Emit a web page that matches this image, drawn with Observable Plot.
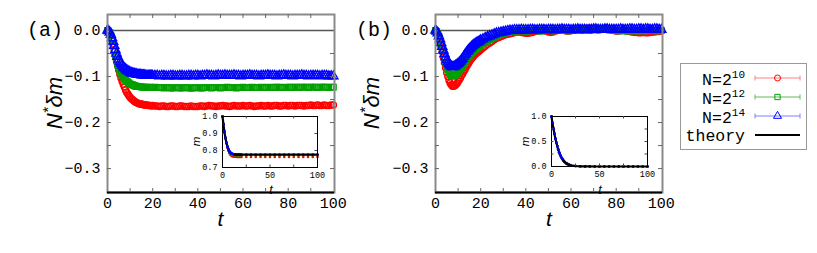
<!DOCTYPE html>
<html><head><meta charset="utf-8">
<script src="https://cdn.jsdelivr.net/npm/d3@7"></script>
<script src="https://cdn.jsdelivr.net/npm/@observablehq/plot@0.6"></script>
<style>
html,body{margin:0;padding:0;background:#fff;}
#root{position:relative;width:817px;height:253px;overflow:hidden;background:#fff;}
#root svg{position:absolute;max-width:none;background:transparent;overflow:visible;}
</style></head><body><div id="root"></div>
<script>
// ---------- data ----------
const tGrid = [0,0.5,1,1.5,2,2.5,3,3.5,4,4.5,5,5.5,6,6.5,7,7.5,8,8.5,9,9.5,10,10.5,11,11.5,12,12.5,13,13.5,14,14.5,15,15.5,16,16.5,17,17.5,18,18.5,19,19.5,20,
21,22,23,24,25,26,27,28,29,30,31,32,33,34,35,36,37,38,39,40,41,42,43,44,45,46,47,48,49,50,
51,52,53,54,55,56,57,58,59,60,61,62,63,64,65,66,67,68,69,70,71,72,73,74,75,76,77,78,79,80,
81,82,83,84,85,86,87,88,89,90,91,92,93,94,95,96,97,98,99,100];

// panel (a): N* delta m
const redA = [0,-0.001,-0.005,-0.011,-0.020,-0.030,-0.042,-0.054,-0.065,-0.076,
-0.086,-0.095,-0.103,-0.110,-0.117,-0.123,-0.129,-0.134,-0.138,-0.142,
-0.145,-0.148,-0.150,-0.152,-0.154,-0.156,-0.157,-0.158,-0.159,-0.160,
-0.160,-0.161,-0.161,-0.162,-0.162,-0.162,-0.163,-0.163,-0.163,-0.164,-0.163,
-0.164,-0.164,-0.165,-0.164,-0.164,-0.165,-0.165,-0.164,-0.164,-0.165,
-0.165,-0.164,-0.164,-0.165,-0.165,-0.165,-0.164,-0.165,-0.165,-0.165,
-0.164,-0.164,-0.165,-0.164,-0.163,-0.164,-0.164,-0.165,-0.164,-0.164,
-0.163,-0.164,-0.164,-0.165,-0.164,-0.163,-0.164,-0.164,-0.164,-0.163,
-0.164,-0.164,-0.163,-0.164,-0.165,-0.164,-0.164,-0.163,-0.164,-0.164,
-0.163,-0.164,-0.164,-0.163,-0.163,-0.164,-0.164,-0.163,-0.163,-0.164,
-0.163,-0.163,-0.164,-0.163,-0.163,-0.163,-0.164,-0.163,-0.163,-0.162,
-0.163,-0.163,-0.162,-0.163,-0.163,-0.162,-0.163,-0.163,-0.162,-0.162];
const greenA = [0,-0.001,-0.004,-0.011,-0.021,-0.033,-0.045,-0.056,-0.066,-0.075,
-0.082,-0.088,-0.093,-0.097,-0.101,-0.104,-0.107,-0.110,-0.112,-0.114,
-0.116,-0.117,-0.118,-0.119,-0.120,-0.121,-0.121,-0.122,-0.122,-0.122,
-0.123,-0.123,-0.123,-0.123,-0.124,-0.123,-0.124,-0.124,-0.123,-0.124,-0.124,
-0.123,-0.124,-0.124,-0.124,-0.125,-0.124,-0.124,-0.125,-0.125,-0.124,
-0.124,-0.125,-0.125,-0.124,-0.124,-0.125,-0.125,-0.125,-0.124,-0.124,
-0.125,-0.125,-0.124,-0.124,-0.124,-0.125,-0.124,-0.124,-0.124,-0.125,
-0.124,-0.124,-0.123,-0.124,-0.124,-0.124,-0.125,-0.124,-0.124,-0.123,
-0.124,-0.124,-0.124,-0.123,-0.124,-0.124,-0.124,-0.123,-0.124,-0.124,
-0.123,-0.124,-0.124,-0.123,-0.123,-0.124,-0.123,-0.124,-0.124,-0.123,
-0.123,-0.124,-0.123,-0.123,-0.124,-0.123,-0.123,-0.123,-0.124,-0.123,
-0.123,-0.123,-0.124,-0.123,-0.123,-0.123,-0.123,-0.124,-0.123,-0.123];
const blueA = [0,-0.001,-0.004,-0.009,-0.016,-0.024,-0.033,-0.042,-0.050,-0.057,
-0.063,-0.068,-0.072,-0.076,-0.079,-0.082,-0.084,-0.086,-0.088,-0.089,
-0.091,-0.092,-0.093,-0.094,-0.094,-0.095,-0.095,-0.096,-0.096,-0.096,
-0.097,-0.097,-0.097,-0.097,-0.098,-0.098,-0.098,-0.098,-0.098,-0.098,-0.098,
-0.098,-0.098,-0.099,-0.098,-0.098,-0.099,-0.099,-0.098,-0.098,-0.099,
-0.099,-0.098,-0.098,-0.099,-0.099,-0.098,-0.098,-0.099,-0.098,-0.098,
-0.099,-0.098,-0.098,-0.097,-0.098,-0.098,-0.099,-0.098,-0.097,-0.098,
-0.098,-0.097,-0.098,-0.098,-0.098,-0.097,-0.098,-0.098,-0.099,-0.098,
-0.098,-0.098,-0.097,-0.098,-0.098,-0.098,-0.099,-0.098,-0.098,-0.098,
-0.097,-0.098,-0.098,-0.098,-0.099,-0.098,-0.098,-0.097,-0.098,-0.098,
-0.098,-0.099,-0.098,-0.098,-0.098,-0.097,-0.098,-0.098,-0.099,-0.098,
-0.098,-0.098,-0.098,-0.099,-0.098,-0.098,-0.098,-0.099,-0.099,-0.099];

// panel (b): N* delta m
const redB = [0,-0.002,-0.008,-0.016,-0.025,-0.035,-0.046,-0.058,-0.070,-0.081,
-0.092,-0.100,-0.108,-0.114,-0.118,-0.121,-0.121,-0.120,-0.118,-0.115,
-0.111,-0.107,-0.103,-0.098,-0.094,-0.089,-0.085,-0.080,-0.076,-0.072,
-0.068,-0.064,-0.061,-0.058,-0.055,-0.052,-0.050,-0.048,-0.046,-0.044,-0.042,
-0.038,-0.034,-0.030,-0.027,-0.024,-0.020,-0.017,-0.015,-0.013,-0.011,
-0.009,-0.008,-0.007,-0.006,-0.004,-0.003,-0.003,-0.004,-0.005,-0.006,
-0.006,-0.005,-0.004,-0.002,-0.001,0.000,0.001,0.000,-0.001,-0.003,
-0.004,-0.003,-0.001,0.000,0.001,0.001,0.000,-0.001,-0.001,0.000,
0.001,0.002,0.002,0.003,0.004,0.004,0.005,0.005,0.004,0.003,
0.002,0.001,0.002,0.003,0.004,0.004,0.003,0.001,0.000,-0.001,
-0.001,0.000,0.001,0.000,-0.001,-0.002,-0.003,-0.004,-0.004,-0.005,
-0.005,-0.004,-0.005,-0.005,-0.004,-0.003,-0.003,-0.002,-0.002,-0.001];
const greenB = [0,-0.002,-0.007,-0.014,-0.022,-0.031,-0.041,-0.051,-0.061,-0.070,
-0.078,-0.085,-0.091,-0.095,-0.098,-0.099,-0.099,-0.098,-0.096,-0.093,
-0.090,-0.087,-0.084,-0.080,-0.076,-0.072,-0.068,-0.064,-0.061,-0.057,
-0.054,-0.051,-0.049,-0.046,-0.044,-0.042,-0.040,-0.038,-0.037,-0.035,-0.033,
-0.030,-0.026,-0.023,-0.020,-0.017,-0.015,-0.012,-0.010,-0.008,-0.007,
-0.005,-0.004,-0.003,-0.002,-0.001,-0.001,0.000,0.000,-0.001,-0.001,
-0.001,0.000,0.000,0.001,0.000,-0.001,-0.001,0.000,0.000,0.001,
0.000,-0.001,0.000,0.000,0.001,0.001,0.000,0.000,-0.001,0.000,
0.000,0.001,0.001,0.000,0.001,0.002,0.002,0.001,0.001,0.002,
0.002,0.003,0.003,0.003,0.002,0.002,0.001,0.001,0.000,0.000,
-0.001,0.000,0.000,-0.001,-0.001,0.000,0.000,-0.001,-0.001,0.000,
0.000,-0.001,0.000,0.000,0.001,0.000,0.000,-0.001,0.000,0.000];
const blueB = [0,-0.002,-0.006,-0.012,-0.019,-0.027,-0.035,-0.043,-0.051,-0.058,
-0.064,-0.069,-0.073,-0.076,-0.078,-0.079,-0.079,-0.078,-0.076,-0.074,
-0.072,-0.070,-0.067,-0.064,-0.061,-0.057,-0.053,-0.050,-0.046,-0.043,
-0.040,-0.038,-0.035,-0.033,-0.031,-0.029,-0.027,-0.026,-0.025,-0.023,-0.021,
-0.019,-0.016,-0.014,-0.012,-0.010,-0.008,-0.006,-0.005,-0.004,-0.003,
-0.002,-0.001,0.000,0.000,0.001,0.001,0.001,0.002,0.001,0.001,
0.001,0.002,0.002,0.001,0.001,0.002,0.002,0.002,0.001,0.002,
0.002,0.002,0.001,0.002,0.002,0.003,0.002,0.002,0.002,0.001,
0.002,0.002,0.003,0.002,0.002,0.002,0.001,0.002,0.002,0.003,
0.003,0.002,0.002,0.002,0.003,0.003,0.002,0.002,0.002,0.002,
0.002,0.003,0.002,0.002,0.002,0.003,0.003,0.002,0.002,0.003,
0.003,0.002,0.003,0.003,0.002,0.002,0.003,0.003,0.002,0.002];

// insets: m(t)
const insetT = [0,1,2,3,4,5,6,7,8,9,10,11,12,13,14,15,16,17,18,19,20,25,30,35,40,45,50,55,60,65,70,75,80,85,90,95,100];
const theoryA = [1.000,0.955,0.912,0.876,0.848,0.826,0.810,0.798,0.790,0.785,0.781,0.779,0.778,0.777,0.776,0.776,0.776,0.776,0.776,0.776,0.776,
0.776,0.776,0.776,0.776,0.776,0.776,0.776,0.776,0.776,0.776,0.776,0.776,0.776,0.776,0.776,0.776];
const mRedA = [1.000,0.954,0.909,0.871,0.841,0.817,0.799,0.786,0.777,0.771,0.767,0.765,0.764,0.763,0.763,0.762,0.762,0.762,0.762,0.762,0.762,
0.762,0.762,0.762,0.762,0.762,0.762,0.762,0.762,0.762,0.762,0.762,0.762,0.762,0.762,0.762,0.762];
const mGreenA = [1.000,0.955,0.911,0.874,0.845,0.822,0.805,0.792,0.784,0.779,0.776,0.774,0.773,0.772,0.772,0.772,0.772,0.772,0.772,0.772,0.772,
0.772,0.772,0.772,0.772,0.772,0.772,0.772,0.772,0.772,0.772,0.772,0.772,0.772,0.772,0.772,0.772];
const mBlueA = [1.000,0.955,0.912,0.876,0.848,0.826,0.810,0.798,0.790,0.785,0.781,0.779,0.778,0.777,0.776,0.776,0.776,0.776,0.776,0.776,0.776,
0.776,0.776,0.776,0.776,0.776,0.776,0.776,0.776,0.776,0.776,0.776,0.776,0.776,0.776,0.776,0.776];
const theoryB = [1.0,0.87,0.76,0.66,0.56,0.48,0.41,0.34,0.28,0.23,0.19,0.16,0.13,0.105,0.085,0.07,0.057,0.047,0.038,0.031,0.025,
0.010,0.004,0.002,0.001,0,0,0,0,0,0,0,0,0,0,0,0];
const mRedB = [1.0,0.86,0.75,0.65,0.55,0.47,0.40,0.34,0.28,0.23,0.19,0.16,0.13,0.11,0.09,0.07,0.06,0.05,0.04,0.03,0.025,
0.011,0.005,0.002,0.001,0,0,0,0,0,0,0,0,0,0,0,0];
const mGreenB = [1.0,0.87,0.76,0.65,0.56,0.48,0.41,0.34,0.28,0.23,0.19,0.155,0.125,0.10,0.08,0.065,0.052,0.042,0.034,0.027,0.022,
0.008,0.003,0.001,0,0,0,0,0,0,0,0,0,0,0,0,0];
const mBlueB = [1.0,0.87,0.76,0.66,0.56,0.48,0.41,0.34,0.28,0.23,0.19,0.16,0.13,0.105,0.085,0.07,0.057,0.047,0.038,0.031,0.025,
0.010,0.004,0.002,0.001,0,0,0,0,0,0,0,0,0,0,0,0];

// axes / labels
const mainXDomain = [0, 100.5];
const mainYDomain = [-0.352, 0.0348];
const mainXTicks = [0,20,40,60,80,100];
const mainYTicks = [-0.3,-0.2,-0.1,0.0];
const mainXInner = [10,20,30,40,50,60,70,80,90];
const mainYInner = [-0.3,-0.25,-0.2,-0.15,-0.1,-0.05];
const insetXTicks = [0,50,100];
const insetXInner = [25,50,75];
const insetAYDomain = [0.7,1.0], insetAYTicks = [0.7,0.8,0.9,1.0], insetAYInner = [0.8,0.9];
const insetBYDomain = [0,1.0], insetBYTicks = [0,0.5,1.0], insetBYInner = [0.25,0.5,0.75];
const seriesNames = ["N=2", "N=2", "N=2", "theory"];
const seriesExps = ["10", "12", "14", ""];
const seriesColors = ["#ff0000", "#00a000", "#0000ff", "#000000"];
const legendLineColors = ["#ff8080", "#60b860", "#8080ff", "#000000"];
const seriesSymbols = ["circle", "square", "triangle"];

// ---------- build ----------
const root = document.getElementById("root");
const rows = (ys) => tGrid.map((t, i) => ({t, v: ys[i]}));
const irows = (ys) => insetT.map((t, i) => ({t, v: ys[i]}));

function place(svg, left, top) {
  svg.style.position = "absolute";
  svg.style.left = left + "px";
  svg.style.top = top + "px";
  svg.style.maxWidth = "none";
  svg.style.overflow = "visible";
  svg.style.background = "transparent";
  root.appendChild(svg);
}

const PW = 340, PH = 253, ML = 107, MR = 6, MT = 14, MB = 61;
const iW = PW - ML - MR, iH = PH - MT - MB;

function mainPanel(seriesVals) {
  return Plot.plot({
    width: PW, height: PH, marginLeft: ML, marginRight: MR, marginTop: MT, marginBottom: MB,
    x: {domain: mainXDomain, ticks: mainXTicks, tickFormat: d3.format("d"), tickSize: 0, tickPadding: 5, label: null},
    y: {domain: mainYDomain, ticks: mainYTicks, tickFormat: d3.format(".1f"), tickSize: 0, tickPadding: 7, label: null},
    style: {fontFamily: "Liberation Mono", fontSize: "15px", color: "#000", background: "transparent", overflow: "visible"},
    marks: [
      Plot.ruleY([0], {stroke: "#555", strokeWidth: 1.6}),
      ...seriesVals.map((vals, k) => Plot.dot(rows(vals), {
        x: "t", y: "v", symbol: seriesSymbols[k], r: k === 2 ? 3.4 : 3.1,
        stroke: seriesColors[k], fill: "none", strokeWidth: 1.4
      })),
      Plot.frame({stroke: "#8a8a8a", strokeWidth: 2}),
      Plot.ruleY([mainYDomain[0]], {stroke: "#000", strokeWidth: 2}),
      Plot.ruleX(mainXInner, {x: d => d, insetTop: iH - 4, stroke: "#666"}),
      Plot.ruleX(mainXInner, {x: d => d, insetBottom: iH - 4, stroke: "#666"}),
      Plot.ruleY(mainYInner, {y: d => d, insetRight: iW - 4, stroke: "#666"}),
      Plot.ruleY(mainYInner, {y: d => d, insetLeft: iW - 4, stroke: "#666"})
    ]
  });
}

function insetPanel(theory, vals, yDomain, yTicks, yInner, mr, mb) {
  const w = 135, h = 90, ml = 32, mt = 10;
  const ih = h - mt - mb, iw = w - ml - mr;
  return Plot.plot({
    width: w, height: h, marginLeft: ml, marginRight: mr, marginTop: mt, marginBottom: mb,
    x: {domain: [0, 100], ticks: insetXTicks, tickFormat: d3.format("d"), tickSize: 0, tickPadding: 4, label: null},
    y: {domain: yDomain, ticks: yTicks, tickFormat: d3.format(".1f"), tickSize: 0, tickPadding: 5, label: null},
    style: {fontFamily: "Liberation Mono", fontSize: "8.5px", color: "#000", background: "transparent", overflow: "visible"},
    marks: [
      ...vals.map((v, k) => Plot.dot(irows(v), {x: "t", y: "v", r: 1.3, fill: seriesColors[k], stroke: "none"})),
      Plot.line(irows(theory), {x: "t", y: "v", stroke: "#000", strokeWidth: 2.2}),
      Plot.dot(irows(vals[2]).slice(0, 12), {x: "t", y: "v", r: 1.3, fill: seriesColors[2], stroke: "none"}),
      Plot.frame({stroke: "#000", strokeWidth: 1}),
      Plot.ruleX(insetXInner, {x: d => d, insetTop: ih - 2.5, stroke: "#444"}),
      Plot.ruleX(insetXInner, {x: d => d, insetBottom: ih - 2.5, stroke: "#444"}),
      Plot.ruleY(yInner, {y: d => d, insetRight: iw - 2.5, stroke: "#444"}),
      Plot.ruleY(yInner, {y: d => d, insetLeft: iw - 2.5, stroke: "#444"})
    ]
  });
}

place(mainPanel([redA, greenA, blueA]), 0, 0);
place(mainPanel([redB, greenB, blueB]), 328, 0);
place(insetPanel(theoryA, [mRedA, mGreenA, mBlueA], insetAYDomain, insetAYTicks, insetAYInner, 8, 29), 190, 106);
place(insetPanel(theoryB, [mRedB, mGreenB, mBlueB], insetBYDomain, insetBYTicks, insetBYInner, 7, 30), 519, 106);

// ---------- overlay texts + legend ----------
const ov = d3.select(root).append("svg")
  .attr("width", 817).attr("height", 253)
  .style("position", "absolute").style("left", "0px").style("top", "0px")
  .style("background", "transparent");

const mono = "Liberation Mono", sans = "Liberation Sans";
[["(a)", 27], ["(b)", 356]].forEach(([s, x]) => {
  ov.append("text").attr("x", x).attr("y", 35.5).attr("font-family", mono).attr("font-size", 20).text(s);
});
// y-axis labels N*δm
[62, 379].forEach(x => {
  const t = ov.append("text").attr("transform", `translate(${x},103) rotate(-90)`)
    .attr("text-anchor", "middle").attr("font-family", sans).attr("font-style", "italic").attr("font-size", 22);
  t.append("tspan").text("N");
  t.append("tspan").attr("dy", -9).attr("font-size", 15).text("*");
  t.append("tspan").attr("dy", 9).text("δm");
});
// x-axis labels t
[220.5, 549].forEach(x => {
  ov.append("text").attr("x", x).attr("y", 226).attr("text-anchor", "middle")
    .attr("font-family", sans).attr("font-style", "italic").attr("font-size", 21).text("t");
});
// inset labels
[[200, 271], [529, 600]].forEach(([mx, tx]) => {
  ov.append("text").attr("transform", `translate(${mx},141.5) rotate(-90)`).attr("text-anchor", "middle")
    .attr("font-family", sans).attr("font-style", "italic").attr("font-size", 11.5).text("m");
  ov.append("text").attr("x", tx).attr("y", 194).attr("text-anchor", "middle")
    .attr("font-family", sans).attr("font-style", "italic").attr("font-size", 12.5).text("t");
});

// legend
ov.append("rect").attr("x", 680.5).attr("y", 63.5).attr("width", 126).attr("height", 86)
  .attr("fill", "#fff").attr("stroke", "#999").attr("stroke-width", 1);
const lineYs = [78, 97, 116, 135];
const baseYs = [85, 104, 123, 141];
seriesNames.forEach((name, k) => {
  const t = ov.append("text").attr("x", 745).attr("y", baseYs[k]).attr("text-anchor", "end")
    .attr("font-family", mono).attr("font-size", 16.5);
  t.append("tspan").text(name);
  if (seriesExps[k]) t.append("tspan").attr("dy", -7).attr("font-size", 11).text(seriesExps[k]);
  const y = lineYs[k], c = legendLineColors[k];
  ov.append("line").attr("x1", 755).attr("x2", 800).attr("y1", y).attr("y2", y)
    .attr("stroke", c).attr("stroke-width", k === 3 ? 2 : 1.2);
  if (k < 3) {
    [755, 800].forEach(x => ov.append("line").attr("x1", x).attr("x2", x).attr("y1", y - 2.5).attr("y2", y + 2.5)
      .attr("stroke", c).attr("stroke-width", 1));
    ov.append("path").attr("transform", `translate(777.5,${y})`)
      .attr("d", d3.symbol(k === 0 ? d3.symbolCircle : k === 1 ? d3.symbolSquare : d3.symbolTriangle, 28)())
      .attr("fill", "none").attr("stroke", seriesColors[k]).attr("stroke-width", 1);
  }
});
</script></body></html>
